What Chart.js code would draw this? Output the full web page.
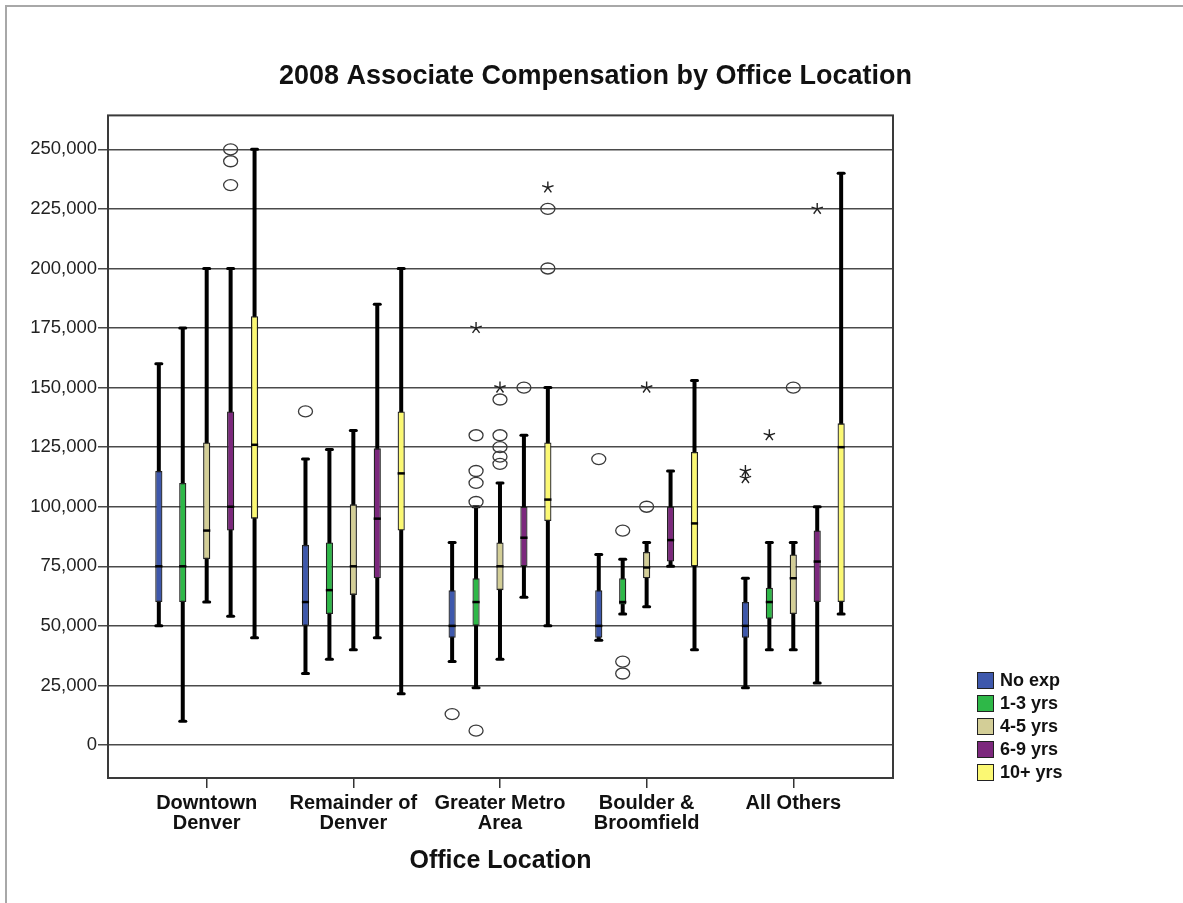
<!DOCTYPE html>
<html>
<head>
<meta charset="utf-8">
<title>2008 Associate Compensation by Office Location</title>
<script src="https://cdn.jsdelivr.net/npm/chart.js@4.4.1/dist/chart.umd.min.js"></script>
<style>
  html, body { margin: 0; padding: 0; background: #fff; overflow: hidden; }
  #wrap { position: relative; width: 1183px; height: 903px; }
  #frame { position: absolute; left: 5px; top: 5px; width: 1300px; height: 1000px;
           border-left: 2px solid #a8a8a8; border-top: 2px solid #a8a8a8; pointer-events: none; }
  #legend { position: absolute; left: 977px; top: 669px; font-family: "Liberation Sans", Arial, sans-serif;
            font-weight: bold; font-size: 18px; color: #111; }
  .row { display: flex; align-items: center; height: 23px; }
  .swatch { width: 15px; height: 15px; border: 1.5px solid #222; margin-right: 6px; }
</style>
</head>
<body>
<div id="wrap">
  <canvas id="chart" width="1183" height="903"></canvas>
  <div id="legend"></div>
  <div id="frame"></div>
</div>
<script>
// Office locations (x categories) and experience groups (series)
const locations = [
  ['Downtown', 'Denver'],
  ['Remainder of', 'Denver'],
  ['Greater Metro', 'Area'],
  ['Boulder &', 'Broomfield'],
  ['All Others']
];
const experience = ['No exp', '1-3 yrs', '4-5 yrs', '6-9 yrs', '10+ yrs'];
const seriesColors = ['#3E58AC', '#2EB848', '#D3CE97', '#7C287D', '#FBF873'];

// Box statistics: one row per experience group, one column per location
const whiskerLow = [
  [50000, 30000, 35000, 44000, 24000],
  [10000, 36000, 24000, 55000, 40000],
  [60000, 40000, 36000, 58000, 40000],
  [54000, 45000, 62000, 75000, 26000],
  [45000, 21500, 50000, 40000, 55000]
];
const quartile1 = [
  [60000, 50000, 45000, 45000, 45000],
  [60000, 55000, 50000, 59000, 53000],
  [78000, 63000, 65000, 70000, 55000],
  [90000, 70000, 75000, 77000, 60000],
  [95000, 90000, 94000, 75000, 60000]
];
const medians = [
  [75000, 60000, 50000, 50000, 50000],
  [75000, 65000, 60000, 60000, 60000],
  [90000, 75000, 75000, 74500, 70000],
  [100000, 95000, 87000, 86000, 77000],
  [126000, 114000, 103000, 93000, 125000]
];
const quartile3 = [
  [115000, 84000, 65000, 65000, 60000],
  [110000, 85000, 70000, 70000, 66000],
  [127000, 101000, 85000, 81000, 80000],
  [140000, 124500, 100000, 100000, 90000],
  [180000, 140000, 127000, 123000, 135000]
];
const whiskerHigh = [
  [160000, 120000, 85000, 80000, 70000],
  [175000, 124000, 100000, 78000, 85000],
  [200000, 132000, 110000, 85000, 85000],
  [200000, 185000, 130000, 115000, 100000],
  [250000, 200000, 150000, 153000, 240000]
];

// Outliers: [series, location, value]
const circleOutliers = [
  [3, 0, 250000], [3, 0, 245000], [3, 0, 235000],
  [0, 1, 140000],
  [0, 2, 13000],
  [1, 2, 130000], [1, 2, 115000], [1, 2, 110000], [1, 2, 102000], [1, 2, 6000],
  [2, 2, 145000], [2, 2, 130000], [2, 2, 125000], [2, 2, 121000], [2, 2, 118000],
  [3, 2, 150000],
  [4, 2, 225000], [4, 2, 200000],
  [0, 3, 120000],
  [1, 3, 90000], [1, 3, 35000], [1, 3, 30000],
  [2, 3, 100000],
  [2, 4, 150000]
];
// Extreme values: [series, location, value]
const starOutliers = [
  [1, 2, 175000], [2, 2, 150000], [4, 2, 234000],
  [2, 3, 150000],
  [0, 4, 115000], [0, 4, 112000], [1, 4, 130000], [3, 4, 225000]
];

const yTicks = [0, 25000, 50000, 75000, 100000, 125000, 150000, 175000, 200000, 225000, 250000];

const FONT = '"Liberation Sans", Arial, Helvetica, sans-serif';

// Whiskers, medians, frame and outlier symbols drawn on the bar chart's scales
const boxplotMarks = {
  id: 'boxplotMarks',
  beforeDatasetsDraw(chart) {
    const { ctx, chartArea: a, scales: { y } } = chart;
    ctx.save();
    ctx.strokeStyle = '#3a3a3a';
    ctx.lineWidth = 2;
    ctx.strokeRect(a.left, a.top, a.right - a.left, a.bottom - a.top);
    chart.data.datasets.forEach((ds, i) => {
      chart.getDatasetMeta(i).data.forEach((bar, j) => {
        const x = bar.x;
        const lo = y.getPixelForValue(whiskerLow[i][j]);
        const hi = y.getPixelForValue(whiskerHigh[i][j]);
        ctx.strokeStyle = '#000';
        ctx.lineCap = 'butt';
        ctx.lineWidth = 4;
        ctx.beginPath(); ctx.moveTo(x, lo); ctx.lineTo(x, hi); ctx.stroke();
        ctx.lineCap = 'round';
        ctx.lineWidth = 3;
        [lo, hi].forEach(py => {
          ctx.beginPath(); ctx.moveTo(x - 3, py); ctx.lineTo(x + 3, py); ctx.stroke();
        });
      });
    });
    ctx.restore();
  },
  afterDatasetsDraw(chart) {
    const { ctx, scales: { y } } = chart;
    ctx.save();
    chart.data.datasets.forEach((ds, i) => {
      chart.getDatasetMeta(i).data.forEach((bar, j) => {
        const py = y.getPixelForValue(medians[i][j]);
        ctx.strokeStyle = '#000';
        ctx.lineWidth = 2.5;
        ctx.beginPath();
        ctx.moveTo(bar.x - bar.width / 2, py);
        ctx.lineTo(bar.x + bar.width / 2, py);
        ctx.stroke();
      });
    });
    const barX = (s, l) => chart.getDatasetMeta(s).data[l].x;
    ctx.strokeStyle = '#3a3a3a';
    ctx.lineWidth = 1.3;
    circleOutliers.forEach(([s, l, v]) => {
      const px = barX(s, l), py = y.getPixelForValue(v);
      ctx.beginPath();
      ctx.ellipse(px, py, 7, 5.5, 0, 0, Math.PI * 2);
      ctx.stroke();
    });
    ctx.strokeStyle = '#222';
    ctx.lineWidth = 1.4;
    starOutliers.forEach(([s, l, v]) => {
      const px = barX(s, l), py = y.getPixelForValue(v);
      ctx.beginPath();
      for (let k = 0; k < 5; k++) {
        const ang = -Math.PI / 2 + k * 2 * Math.PI / 5;
        ctx.moveTo(px, py);
        ctx.lineTo(px + 6 * Math.cos(ang), py + 6 * Math.sin(ang));
      }
      ctx.stroke();
    });
    ctx.restore();
  }
};

const datasets = experience.map((name, i) => ({
  label: name,
  data: locations.map((_, j) => ({ x: j, y: [quartile1[i][j], quartile3[i][j]] })),
  backgroundColor: seriesColors[i],
  borderColor: '#222',
  borderWidth: 1.3,
  borderSkipped: false,
  categoryPercentage: 0.816,
  barPercentage: 0.3
}));

new Chart(document.getElementById('chart'), {
  type: 'bar',
  data: { datasets },
  plugins: [boxplotMarks],
  options: {
    responsive: false,
    animation: false,
    layout: { padding: { left: 8, right: 0, top: 0, bottom: 0 } },
    plugins: {
      legend: { display: false },
      tooltip: { enabled: false },
      title: {
        display: true,
        text: '2008 Associate Compensation by Office Location',
        color: '#111',
        font: { family: FONT, size: 27, weight: 'bold' },
        padding: { top: 60, bottom: 23 }
      }
    },
    scales: {
      x: {
        type: 'linear',
        min: -0.673,
        max: 4.68,
        offset: false,
        afterBuildTicks: s => { s.ticks = locations.map((_, j) => ({ value: j })); },
        afterFit: s => { s.height = 125; },
        ticks: {
          autoSkip: false,
          maxRotation: 0,
          padding: 6,
          color: '#111',
          font: { family: FONT, size: 20, weight: 'bold', lineHeight: 0.97 },
          callback: (v, idx) => locations[idx]
        },
        grid: { drawOnChartArea: false, drawTicks: true, tickLength: 10, tickColor: '#333', lineWidth: 1.5, offset: false },
        border: { display: false },
        title: {
          display: true,
          text: 'Office Location',
          color: '#111',
          font: { family: FONT, size: 25, weight: 'bold' },
          padding: { top: 0, bottom: 27 }
        }
      },
      y: {
        type: 'linear',
        position: 'left',
        min: -13850,
        max: 264250,
        afterBuildTicks: s => { s.ticks = yTicks.map(v => ({ value: v })); },
        afterFit: s => { s.width = 100; },
        ticks: {
          padding: 1,
          color: '#222',
          font: { family: FONT, size: 18.5 },
          callback: v => v.toLocaleString('en-US')
        },
        grid: { color: '#4a4a4a', lineWidth: 1.5, tickLength: 10, drawTicks: true },
        border: { display: false }
      },
      legendSpace: {
        type: 'linear',
        position: 'right',
        display: true,
        afterFit: s => { s.width = 290; },
        ticks: { display: false },
        grid: { display: false },
        border: { display: false }
      }
    }
  }
});

// Series key
const legendEl = document.getElementById('legend');
experience.forEach((name, i) => {
  const row = document.createElement('div');
  row.className = 'row';
  const sw = document.createElement('div');
  sw.className = 'swatch';
  sw.style.background = seriesColors[i];
  const label = document.createElement('span');
  label.textContent = name;
  row.appendChild(sw);
  row.appendChild(label);
  legendEl.appendChild(row);
});
</script>
</body>
</html>
